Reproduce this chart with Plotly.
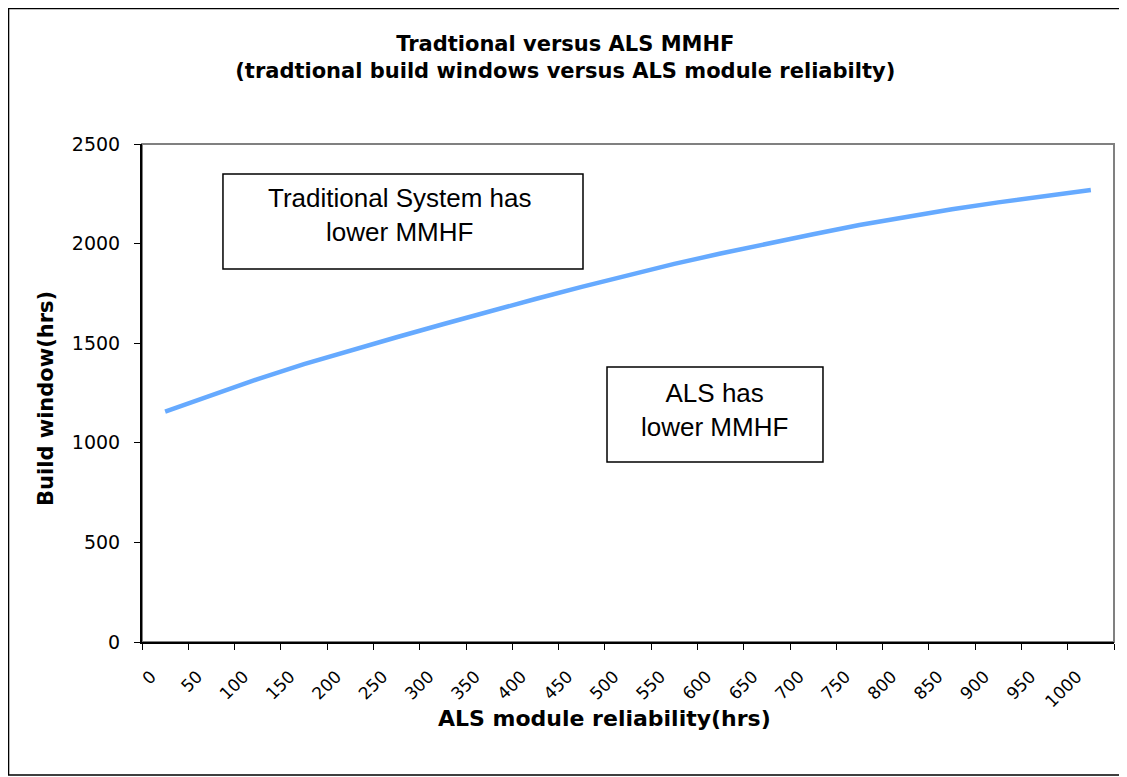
import plotly.graph_objects as go

# ALS module reliability categories (hrs) and the build window (hrs)
reliability = [0, 50, 100, 150, 200, 250, 300, 350, 400, 450, 500,
               550, 600, 650, 700, 750, 800, 850, 900, 950, 1000]
build_window = [1156, 1240, 1320, 1395, 1465, 1530, 1595, 1660, 1722, 1783, 1843,
                1898, 1950, 2000, 2047, 2093, 2135, 2172, 2207, 2240, 2269]
y_ticks = [0, 500, 1000, 1500, 2000, 2500]

x_labels = [str(v) for v in reliability]

fig = go.Figure()

fig.add_trace(go.Scatter(
    x=x_labels,
    y=build_window,
    mode='lines',
    line=dict(color='#66aaff', width=4.5),
    showlegend=False
))

# plot area frame (grey, Excel style)
fig.add_shape(type='rect', xref='paper', yref='paper', x0=0, x1=1, y0=0, y1=1,
              line=dict(color='#808080', width=2), layer='below')
# outer chart border
fig.add_shape(type='rect', xref='paper', yref='paper',
              x0=-0.1373, x1=1.0113, y0=-0.2671, y1=1.2721,
              line=dict(color='black', width=1.5))

# text boxes
fig.add_shape(type='rect', xref='paper', yref='paper',
              x0=0.0833, x1=0.4537, y0=0.749, y1=0.9398,
              line=dict(color='black', width=1.5))
fig.add_shape(type='rect', xref='paper', yref='paper',
              x0=0.4784, x1=0.7006, y0=0.3614, y1=0.5522,
              line=dict(color='black', width=1.5))

box_font = dict(family='Liberation Sans, Arial', size=26, color='black')
fig.add_annotation(xref='paper', yref='paper', x=0.2654, y=0.8574,
                   text='Traditional System has<br>lower MMHF', showarrow=False,
                   font=box_font, xanchor='center', yanchor='middle')
fig.add_annotation(xref='paper', yref='paper', x=0.5895, y=0.4659,
                   text='ALS has<br>lower MMHF', showarrow=False,
                   font=box_font, xanchor='center', yanchor='middle')

# axis titles
fig.add_annotation(xref='paper', yref='paper', x=-0.0988, y=0.49,
                   text='<b>Build window(hrs)</b>', textangle=-90, showarrow=False,
                   font=dict(family='DejaVu Sans', size=21, color='black'),
                   xanchor='center', yanchor='middle')
fig.add_annotation(xref='paper', yref='paper', x=0.476, y=-0.1546,
                   text='<b>ALS module reliability(hrs)</b>', showarrow=False,
                   font=dict(family='DejaVu Sans', size=22, color='black'),
                   xanchor='center', yanchor='middle')

fig.update_layout(
    width=1119,
    height=769,
    margin=dict(l=134, r=13, t=136, b=135),
    paper_bgcolor='white',
    plot_bgcolor='white',
    title=dict(
        text='<b>Tradtional versus ALS MMHF<br>(tradtional build windows versus ALS module reliabilty)</b>',
        x=0.498, xref='container', xanchor='center',
        y=1 - 43 / 769, yref='container', yanchor='middle',
        font=dict(family='DejaVu Sans', size=21, color='black')
    ),
    xaxis=dict(
        type='category',
        range=[-0.5, 20.5],
        tickson='boundaries',
        tickangle=-45,
        ticks='outside', ticklen=6, tickcolor='black',
        ticklabelstandoff=16, ticklabelshift=-14,
        showline=True, linecolor='black', linewidth=2,
        showgrid=False, zeroline=False,
        tickfont=dict(family='DejaVu Sans', size=17, color='black'),
    ),
    yaxis=dict(
        range=[0, 2500],
        tickvals=y_ticks,
        ticks='outside', ticklen=6, tickcolor='black',
        ticklabelstandoff=10,
        showline=True, linecolor='black', linewidth=2,
        showgrid=False, zeroline=False,
        tickfont=dict(family='DejaVu Sans', size=19, color='black'),
    ),
)

fig.write_html("out.html")
